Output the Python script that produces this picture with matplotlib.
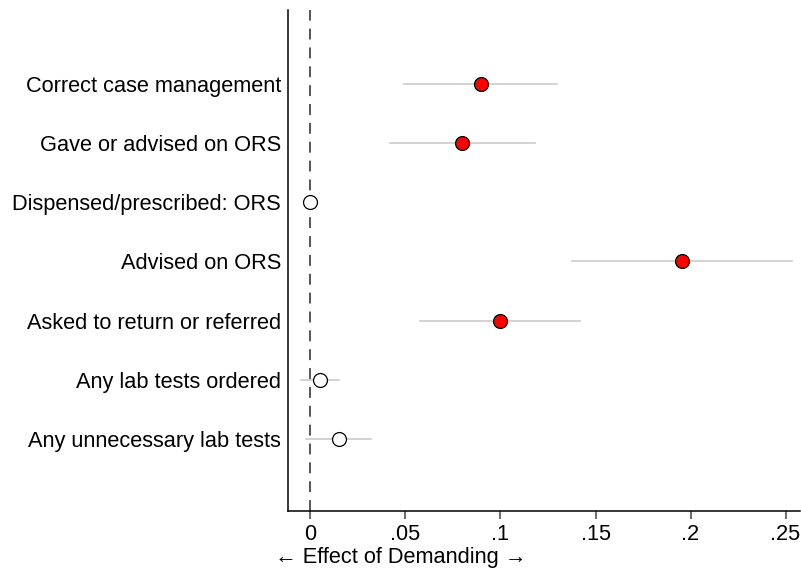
import matplotlib.pyplot as plt

labels = ["Correct case management", "Gave or advised on ORS", "Dispensed/prescribed: ORS",
          "Advised on ORS", "Asked to return or referred", "Any lab tests ordered",
          "Any unnecessary lab tests"]
effects = [0.090, 0.080, 0.0, 0.1955, 0.100, 0.005, 0.015]
ci_low = [0.049, 0.042, 0.0, 0.1376, 0.0576, -0.005, -0.0024]
ci_high = [0.130, 0.118, 0.0, 0.2534, 0.142, 0.015, 0.032]
significant = [True, True, False, True, True, False, False]
xticks = [0, 0.05, 0.1, 0.15, 0.2, 0.25]
xtick_labels = ["0", ".05", ".1", ".15", ".2", ".25"]

plt.rcParams['font.family'] = ['Liberation Sans', 'DejaVu Sans']

fig = plt.figure(figsize=(8.01, 5.69), dpi=100)
ax = fig.add_axes([288 / 801, 58 / 569, 512 / 801, 501 / 569])

# reference line at zero
ax.axvline(0, color="#555555", linestyle=(0, (5.6, 4.1)), linewidth=1.4, zorder=1)

for i, (e, lo, hi, sig) in enumerate(zip(effects, ci_low, ci_high, significant)):
    y = i + 1
    ax.plot([lo, hi], [y, y], color="#cccccc", linewidth=1.2, zorder=2)
    ax.plot(e, y, marker="o", markersize=10, markeredgecolor="black", markeredgewidth=0.9,
            markerfacecolor="red" if sig else "white", zorder=3)

ax.set_xlim(-0.0118, 0.2576)
ax.set_ylim(8.22, -0.25)
ax.set_yticks(range(1, len(labels) + 1))
ax.set_yticklabels(labels, fontsize=15.7)
ax.tick_params(axis="y", length=0, pad=5)
ax.set_xticks(xticks)
ax.set_xticklabels(xtick_labels, fontsize=15.7)
ax.tick_params(axis="x", length=6, color="#555555", width=1.2, pad=3)

# Stata-style title centred on the whole graph
fig.text(401 / 801, 11 / 569, "← Effect of Demanding →", fontsize=15.7, ha="center", va="center")

ax.spines["top"].set_visible(False)
ax.spines["right"].set_visible(False)
ax.spines["left"].set_linewidth(1.1)
ax.spines["bottom"].set_linewidth(1.1)

fig.savefig("out.png", dpi=100)
